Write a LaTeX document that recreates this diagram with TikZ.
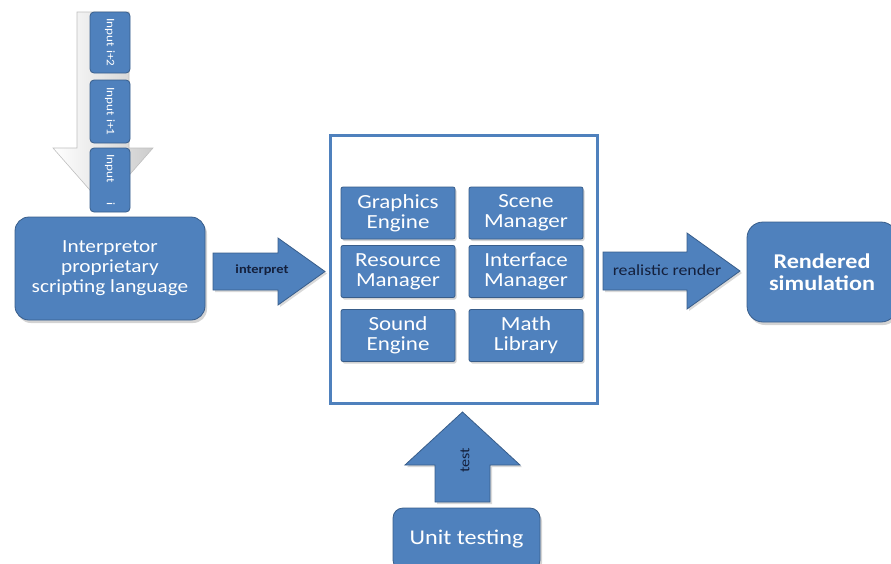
\documentclass[tikz,border=0pt]{standalone}
\usepackage{fontspec}
\setmainfont{Carlito}[FakeStretch=1.15]
\usetikzlibrary{shadows}
\definecolor{boxblue}{RGB}{79,129,189}
\definecolor{edgeblue}{RGB}{56,93,138}
\definecolor{labelnavy}{RGB}{20,32,60}

\begin{document}
\begin{tikzpicture}[x=1pt,y=-1pt,thick,
    block/.style={rounded corners=14pt,fill=boxblue,draw=edgeblue,line width=0.8pt,text=white,align=center,
        drop shadow={opacity=0.35,shadow xshift=2pt,shadow yshift=-3pt}},
    part/.style={rounded corners=2pt,fill=boxblue,draw=edgeblue,line width=0.8pt,text=white,align=center,
        minimum width=114pt,minimum height=52pt,inner sep=0pt,font=\fontsize{20}{20}\selectfont,
        drop shadow={opacity=0.35,shadow xshift=1.5pt,shadow yshift=-2pt}},
    inbox/.style={rounded corners=4pt,fill=boxblue,draw=edgeblue,line width=0.8pt,text=white,rotate=-90,
        minimum height=40pt,inner sep=2pt,font=\fontsize{11.5}{12}\selectfont},
    flow/.style={fill=boxblue,draw=edgeblue,line width=0.8pt,line join=miter,
        drop shadow={opacity=0.3,shadow xshift=2pt,shadow yshift=-2pt}},
    flowlabel/.style={text=labelnavy,inner sep=0pt}]

    \useasboundingbox (0,0) rectangle (891,563);

    % input queue
    \draw[shading=axis,left color=white,right color=gray!40,draw=gray!50,line width=0.6pt]
        (77,12) -- (129,12) -- (129,148) -- (153,148) -- (103,205) -- (53,148) -- (77,148) -- cycle;
    \node[inbox,minimum width=61pt] (in2) at (110,42.5) {Input i+2};
    \node[inbox,minimum width=63pt] (in1) at (110,111.5) {Input i+1};
    \node[inbox,minimum width=64pt,text width=52pt] (in0) at (110,180) {Input\hfill i};

    % interpreter
    \node[block,minimum width=190pt,minimum height=103pt,font=\fontsize{18.5}{20}\selectfont] (interp) at (110,268.5)
        {Interpretor\\proprietary\\scripting language};
    \draw[flow] (213,253) -- (278,253) -- (278,238) -- (325,271.5) -- (278,305) -- (278,290) -- (213,290) -- cycle;
    \node[flowlabel,font=\fontsize{12.5}{13}\bfseries\selectfont] (interpret) at (262,270) {interpret};

    % engine
    \node[draw=boxblue,line width=3pt,fill=white,minimum width=267pt,minimum height=268pt] (core) at (463.5,269) {};
    \node[part] (graphics) at (398,213) {Graphics\\Engine};
    \node[part] (scene) at (526,213) {Scene\\Manager};
    \node[part] (resource) at (398,271.5) {Resource\\Manager};
    \node[part] (interface) at (526,271.5) {Interface\\Manager};
    \node[part] (sound) at (398,335.5) {Sound\\Engine};
    \node[part] (math) at (526,335.5) {Math\\Library};

    % output
    \draw[flow] (603,252) -- (687,252) -- (687,233) -- (740,271) -- (687,309) -- (687,290) -- (603,290) -- cycle;
    \node[flowlabel,font=\fontsize{15.5}{16}\selectfont] (render) at (667,270) {realistic render};
    \node[block,rounded corners=16pt,minimum width=150pt,minimum height=100pt,
        font=\fontsize{21}{22}\bfseries\selectfont] (sim) at (822,272) {Rendered\\simulation};

    % testing
    \draw[flow] (435,502) -- (435,465) -- (405,465) -- (462.5,412) -- (520,465) -- (490,465) -- (490,502) -- cycle;
    \node[flowlabel,rotate=90,font=\fontsize{14}{14}\selectfont] (test) at (465,460) {test};
    \node[block,rounded corners=10pt,minimum width=147pt,minimum height=62pt,
        font=\fontsize{21}{22}\selectfont] (unit) at (466.5,539) {Unit testing};
\end{tikzpicture}
\end{document}
